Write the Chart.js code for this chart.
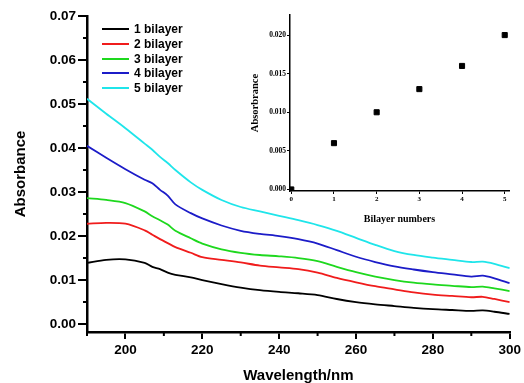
<!DOCTYPE html>
<html>
<head>
<meta charset="utf-8">
<script src="https://cdn.jsdelivr.net/npm/chart.js@4.4.1/dist/chart.umd.min.js"></script>
<style>
  html, body { margin: 0; padding: 0; background: #fff; }
  #wrap { position: relative; width: 524px; height: 383px; overflow: hidden; }
  #mainChart { position: absolute; left: 0; top: 0; }
  #insetChart { position: absolute; left: 240px; top: 0; }
  #legend {
    position: absolute; left: 102px; top: 22px;
    font: bold 12px "Liberation Sans", Arial, sans-serif; color: #000;
  }
  .legend-row { height: 14.7px; display: flex; align-items: center; }
  .legend-line { width: 27px; height: 2px; margin-right: 5px; }
</style>
</head>
<body>
<div id="wrap">
  <canvas id="mainChart" width="524" height="383"></canvas>
  <canvas id="insetChart" width="284" height="225"></canvas>
  <div id="legend"></div>
</div>
<script>
// Main spectra (absorbance vs wavelength)
const wavelengths = [190, 195, 200, 205, 207, 209, 211, 213, 217, 220, 225, 230, 235, 240, 245, 250, 255, 260, 265, 270, 275, 280, 285, 290, 293, 296, 300];
const bilayer1 = [0.0139, 0.0146, 0.0147, 0.0139, 0.0130, 0.0125, 0.0117, 0.0112, 0.0106, 0.0100, 0.0091, 0.0083, 0.0077, 0.0073, 0.0070, 0.0066, 0.0057, 0.0050, 0.0045, 0.0041, 0.0037, 0.0034, 0.0032, 0.0030, 0.0031, 0.0028, 0.0023];
const bilayer2 = [0.0228, 0.0230, 0.0228, 0.0213, 0.0203, 0.0193, 0.0184, 0.0175, 0.0162, 0.0152, 0.0146, 0.0140, 0.0133, 0.0129, 0.0125, 0.0117, 0.0105, 0.0095, 0.0086, 0.0079, 0.0072, 0.0067, 0.0064, 0.0061, 0.0062, 0.0057, 0.0050];
const bilayer3 = [0.0286, 0.0282, 0.0275, 0.0256, 0.0245, 0.0236, 0.0226, 0.0212, 0.0195, 0.0183, 0.0170, 0.0162, 0.0157, 0.0154, 0.0150, 0.0143, 0.0130, 0.0118, 0.0108, 0.0100, 0.0094, 0.0090, 0.0087, 0.0084, 0.0085, 0.0081, 0.0075];
const bilayer4 = [0.0405, 0.0378, 0.0352, 0.0328, 0.0320, 0.0305, 0.0292, 0.0272, 0.0252, 0.0240, 0.0224, 0.0212, 0.0205, 0.0200, 0.0193, 0.0183, 0.0168, 0.0153, 0.0141, 0.0131, 0.0124, 0.0118, 0.0113, 0.0108, 0.0110, 0.0104, 0.0093];
const bilayer5 = [0.0512, 0.0478, 0.0445, 0.0410, 0.0396, 0.0380, 0.0366, 0.0350, 0.0322, 0.0305, 0.0282, 0.0266, 0.0256, 0.0246, 0.0236, 0.0225, 0.0212, 0.0196, 0.0180, 0.0166, 0.0157, 0.0151, 0.0146, 0.0141, 0.0142, 0.0137, 0.0127];
const seriesLabels = ["1 bilayer", "2 bilayer", "3 bilayer", "4 bilayer", "5 bilayer"];
const seriesColors = ["#000000", "#f01c1c", "#1ed81e", "#1c1cc8", "#1fe5ea"];

const xTicks = [200, 220, 240, 260, 280, 300];
const xMinor = [190, 210, 230, 250, 270, 290];
const yTicks = [0, 0.01, 0.02, 0.03, 0.04, 0.05, 0.06, 0.07];
const yMinor = [0.005, 0.015, 0.025, 0.035, 0.045, 0.055, 0.065];

// Inset (absorbance vs bilayer number)
const bilayerNumbers = [0, 1, 2, 3, 4, 5];
const insetAbsorbance = [0.000, 0.006, 0.010, 0.013, 0.016, 0.020];
const insetXTicks = [0, 1, 2, 3, 4, 5];
const insetYTicks = [0, 0.005, 0.010, 0.015, 0.020];

const sans = '"Liberation Sans", Arial, sans-serif';
const serif = '"Liberation Serif", "Times New Roman", serif';

// Short ticks between the labelled ones
const minorTicks = {
  id: "minorTicks",
  afterDraw(chart, args, opts) {
    const ctx = chart.ctx;
    const xs = chart.scales.x;
    const ys = chart.scales.y;
    ctx.save();
    ctx.strokeStyle = "#000";
    ctx.lineWidth = opts.width;
    ctx.beginPath();
    opts.x.forEach((v) => {
      const px = xs.getPixelForValue(v);
      ctx.moveTo(px, xs.top);
      ctx.lineTo(px, xs.top + opts.len);
    });
    opts.y.forEach((v) => {
      const py = ys.getPixelForValue(v);
      ctx.moveTo(ys.right - opts.len, py);
      ctx.lineTo(ys.right, py);
    });
    ctx.stroke();
    ctx.restore();
  },
};

const series = [bilayer1, bilayer2, bilayer3, bilayer4, bilayer5];

const mainChart = new Chart(document.getElementById("mainChart"), {
  type: "line",
  data: {
    datasets: series.map((vals, i) => ({
      label: seriesLabels[i],
      data: wavelengths.map((w, j) => ({ x: w, y: vals[j] })),
      borderColor: seriesColors[i],
      borderWidth: 1.8,
      pointRadius: 0,
      tension: 0.3,
      fill: false,
    })),
  },
  options: {
    responsive: false,
    animation: false,
    layout: { padding: { top: 16, right: 10, left: 0, bottom: 0 } },
    plugins: {
      legend: { display: false },
      tooltip: { enabled: false },
      minorTicks: { x: xMinor, y: yMinor, len: 4, width: 2 },
    },
    scales: {
      x: {
        type: "linear",
        min: 190,
        max: 300,
        afterBuildTicks: (s) => { s.ticks = xTicks.map((v) => ({ value: v })); },
        afterFit: (s) => { s.height = 51; },
        grid: { drawOnChartArea: false, tickLength: 7, color: "#000", lineWidth: 2 },
        border: { color: "#000", width: 2.5 },
        ticks: { color: "#000", padding: 3, maxRotation: 0, font: { family: sans, size: 13.5, weight: "bold" } },
        title: { display: true, text: "Wavelength/nm", color: "#000", padding: 0, font: { family: sans, size: 15, weight: "bold", lineHeight: 1.0 } },
      },
      y: {
        min: -0.0018,
        max: 0.07,
        afterBuildTicks: (s) => { s.ticks = yTicks.map((v) => ({ value: v })); },
        afterFit: (s) => { s.width = 87; },
        grid: { drawOnChartArea: false, tickLength: 9, color: "#000", lineWidth: 2 },
        border: { color: "#000", width: 2.5 },
        ticks: { color: "#000", padding: 2, callback: (v) => v.toFixed(2), font: { family: sans, size: 13.5, weight: "bold" } },
        title: { display: true, text: "Absorbance", color: "#000", padding: { top: 12, bottom: 0 }, font: { family: sans, size: 15, weight: "bold" } },
      },
    },
  },
  plugins: [minorTicks],
});

const insetChart = new Chart(document.getElementById("insetChart"), {
  type: "scatter",
  data: {
    datasets: [{
      data: bilayerNumbers.map((n, i) => ({ x: n, y: insetAbsorbance[i] })),
      backgroundColor: "#000",
      borderColor: "#000",
      pointStyle: "rect",
      pointRadius: 3.6,
    }],
  },
  options: {
    responsive: false,
    animation: false,
    layout: { padding: { top: 15, right: 15, left: 0, bottom: 0 } },
    plugins: {
      legend: { display: false },
      tooltip: { enabled: false },
    },
    scales: {
      x: {
        type: "linear",
        min: -0.03,
        max: 5.1,
        afterBuildTicks: (s) => { s.ticks = insetXTicks.map((v) => ({ value: v })); },
        afterFit: (s) => { s.height = 34; },
        grid: { drawOnChartArea: false, tickLength: 3, color: "#000", lineWidth: 1 },
        border: { color: "#000", width: 1.5 },
        ticks: { color: "#000", padding: 1, maxRotation: 0, font: { family: serif, size: 7, weight: "bold" } },
        title: { display: true, text: "Bilayer numbers", color: "#000", padding: 0, font: { family: serif, size: 10, weight: "bold" } },
      },
      y: {
        min: -0.0002,
        max: 0.0226,
        afterBuildTicks: (s) => { s.ticks = insetYTicks.map((v) => ({ value: v })); },
        afterFit: (s) => { s.width = 50; },
        grid: { drawOnChartArea: false, tickLength: 3, color: "#000", lineWidth: 1 },
        border: { color: "#000", width: 1.5 },
        ticks: { color: "#000", padding: 1, callback: (v) => v.toFixed(3), font: { family: serif, size: 7.5, weight: "bold" } },
        title: { display: true, text: "Absorbrance", color: "#000", padding: { top: 9, bottom: 0 }, font: { family: serif, size: 10.5, weight: "bold" } },
      },
    },
  },
});

// HTML legend built from the main chart datasets
const legendEl = document.getElementById("legend");
legendEl.innerHTML = mainChart.data.datasets.map((ds) => `
  <div class="legend-row">
    <span class="legend-line" style="background:${ds.borderColor}"></span>
    <span>${ds.label}</span>
  </div>`).join("");
</script>
</body>
</html>
